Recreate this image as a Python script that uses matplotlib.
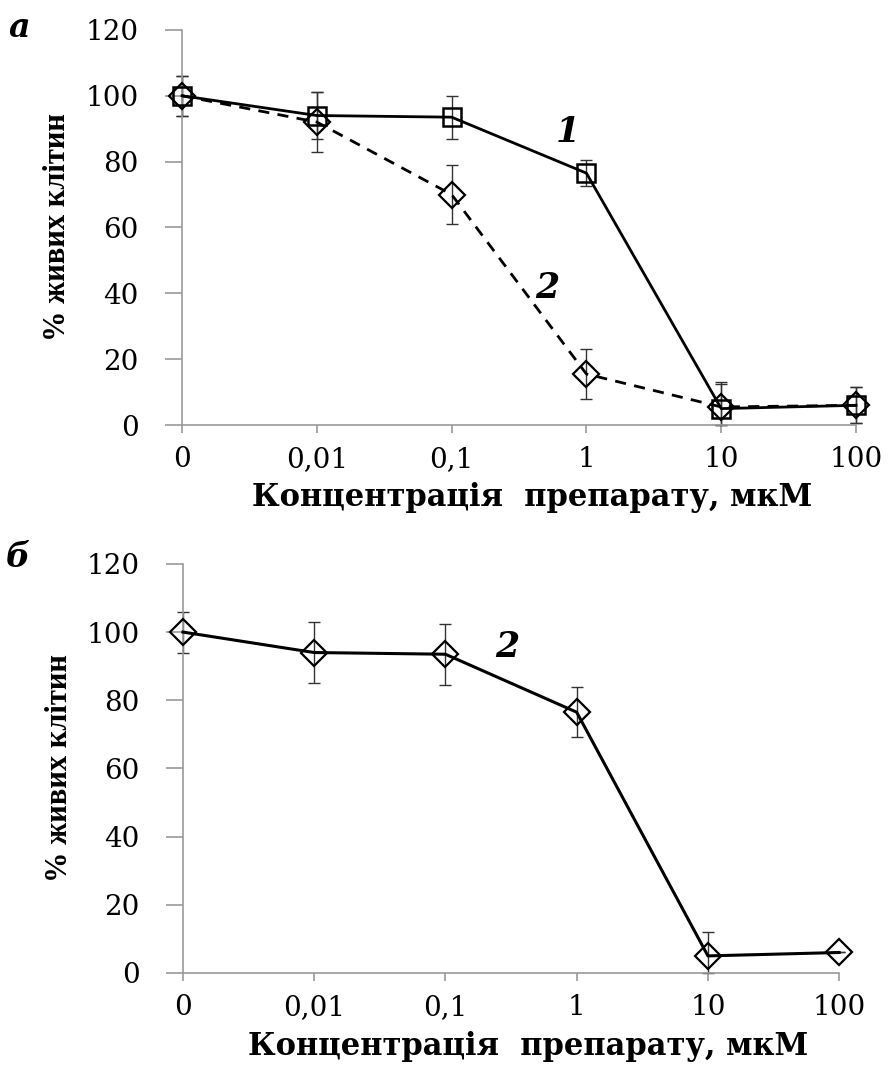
import matplotlib.pyplot as plt

plt.rcParams['font.family'] = ['DejaVu Serif']

# Дані
conc_labels = ['0', '0,01', '0,1', '1', '10', '100']
x = list(range(len(conc_labels)))

a_s1 = [100, 94, 93.5, 76.5, 5, 6]
a_s1_err = [6, 7, 6.5, 4, 7.5, 5.5]
a_s2 = [100, 92, 70, 15.5, 5.5, 6]
a_s2_err = [6, 9, 9, 7.5, 7.5, 5.5]

b_s2 = [100, 94, 93.5, 76.5, 5, 6]
b_s2_err = [6, 9, 9, 7.3, 7, 0]

grey = '#9a9a9a'


def errs(vals, err):
    # нижня межа не нижче нуля
    return [[min(e, v) for v, e in zip(vals, err)], err]


def style_axes(ax, ylab_x, xlab_x):
    ax.set_xlim(0, 5)
    ax.set_ylim(0, 120)
    ax.set_yticks(range(0, 121, 20))
    ax.set_xticks(x)
    ax.set_xticklabels(conc_labels)
    for s in ['top', 'right']:
        ax.spines[s].set_visible(False)
    for s in ['left', 'bottom']:
        ax.spines[s].set_color(grey)
        ax.spines[s].set_linewidth(1.2)
    ax.tick_params(axis='y', direction='out', length=12, width=1.2, color=grey,
                   labelsize=20, pad=19)
    ax.tick_params(axis='x', direction='out', length=6, width=1.2, color=grey,
                   labelsize=20, pad=9)
    ax.set_xlabel('Концентрація  препарату, мкМ', fontsize=22, fontweight='bold')
    ax.xaxis.set_label_coords(xlab_x, -0.143)
    ax.set_ylabel('% живих клітин', fontsize=22, fontweight='bold', family='Liberation Serif')
    ax.yaxis.set_label_coords(ylab_x, 0.5)


fig = plt.figure(figsize=(8.88, 10.68), dpi=100)
ax1 = fig.add_axes([0.205, 0.602, 0.759, 0.370])
ax2 = fig.add_axes([0.206, 0.089, 0.739, 0.383])

# Графік а
ax1.errorbar(x, a_s2, yerr=errs(a_s2, a_s2_err), fmt='none', ecolor='#333333', elinewidth=1,
             capsize=4, clip_on=False)
ax1.errorbar(x, a_s1, yerr=errs(a_s1, a_s1_err), fmt='none', ecolor='#333333', elinewidth=1,
             capsize=4, clip_on=False)
ax1.plot(x, a_s2, color='black', linestyle=(0, (4, 3)), linewidth=2, marker='D', markersize=13,
         markerfacecolor='none', markeredgecolor='black', markeredgewidth=1.6, clip_on=False, zorder=3)
ax1.plot(x, a_s1, color='black', linestyle='-', linewidth=2, marker='s', markersize=13,
         markerfacecolor='none', markeredgecolor='black', markeredgewidth=1.8, clip_on=False, zorder=4)
ax1.text(2.86, 89, '1', fontsize=25, fontweight='bold', style='italic', ha='center', va='center')
ax1.text(2.71, 41.5, '2', fontsize=25, fontweight='bold', style='italic', ha='center', va='center')
style_axes(ax1, -0.163, 0.519)

# Графік б
ax2.errorbar(x, b_s2, yerr=errs(b_s2, b_s2_err), fmt='none', ecolor='#333333', elinewidth=1,
             capsize=4, clip_on=False)
ax2.plot(x, b_s2, color='black', linestyle='-', linewidth=2.2, marker='D', markersize=13,
         markerfacecolor='none', markeredgecolor='black', markeredgewidth=1.6, clip_on=False, zorder=3)
ax2.text(2.47, 95.5, '2', fontsize=25, fontweight='bold', style='italic', ha='center', va='center')
style_axes(ax2, -0.166, 0.526)

fig.text(0.022, 0.974, 'а', fontsize=24, fontweight='bold', style='italic', ha='center', va='center')
fig.text(0.02, 0.478, 'б', fontsize=24, fontweight='bold', style='italic', ha='center', va='center')

fig.savefig('out.png', dpi=100)
